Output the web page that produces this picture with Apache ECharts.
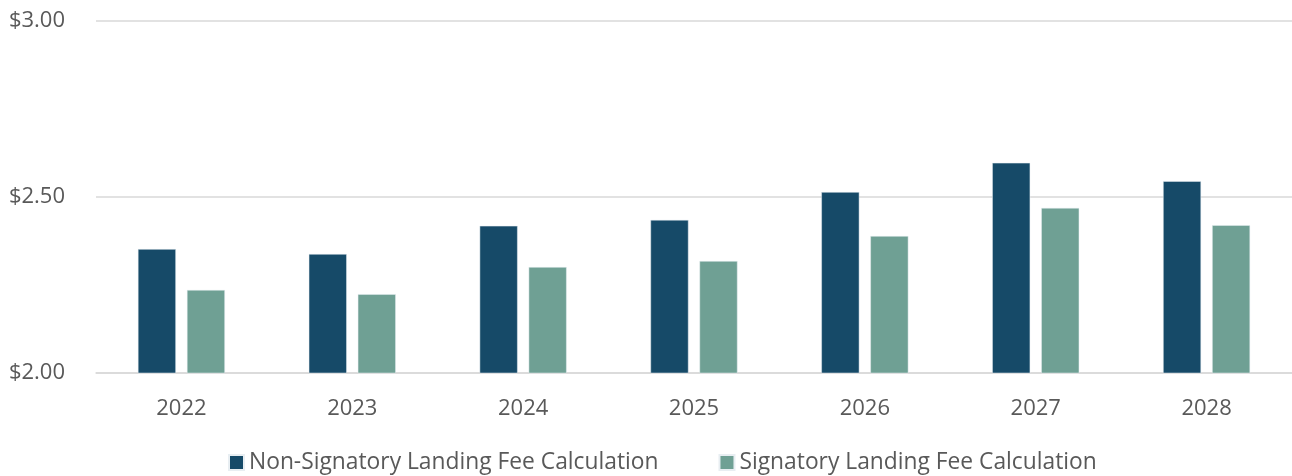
<!DOCTYPE html>
<html><head><meta charset="utf-8">
<script src="https://cdn.jsdelivr.net/npm/echarts@6/dist/echarts.min.js"></script>
<style>html,body{margin:0;padding:0;background:#fff}#c{width:1292px;height:476px}</style>
</head><body><div id="c"></div>
<script>
const categories = ['2022','2023','2024','2025','2026','2027','2028'];
const nonSignatory = [2.352, 2.338, 2.418, 2.435, 2.514, 2.597, 2.545];
const signatory = [2.236, 2.224, 2.301, 2.318, 2.389, 2.469, 2.420];
const seriesNames = ['Non-Signatory Landing Fee Calculation', 'Signatory Landing Fee Calculation'];

const chart = echarts.init(document.getElementById('c'));
const font = '"Open Sans", "Noto Sans", sans-serif';
chart.setOption({
  animation: false,
  textStyle: { fontFamily: font },
  grid: { left: 96, right: 0, top: 21, bottom: 103 },
  legend: {
    top: 451, left: 228, itemWidth: 15, itemHeight: 15, itemGap: 60,
    padding: 0,
    icon: 'rect',
    textStyle: { fontFamily: font, fontSize: 22.8, color: '#595959' },
    data: seriesNames
  },
  xAxis: {
    type: 'category', data: categories,
    axisLine: { lineStyle: { color: '#d9d9d9', width: 1.5 } },
    axisTick: { show: false },
    axisLabel: { fontFamily: font, fontSize: 22, color: '#595959', margin: 25 }
  },
  yAxis: {
    type: 'value', min: 2, max: 3, interval: 0.5,
    axisLine: { show: false }, axisTick: { show: false },
    splitLine: { lineStyle: { color: '#d9d9d9', width: 1.5 } },
    axisLabel: { fontFamily: font, fontSize: 22, color: '#595959', margin: 31,
      formatter: v => '$' + v.toFixed(2) }
  },
  series: [
    { name: seriesNames[0], type: 'bar', data: nonSignatory, barWidth: 38, barGap: '29%',
      itemStyle: { color: '#164a68', borderColor: '#e8eef2', borderWidth: 0.5 } },
    { name: seriesNames[1], type: 'bar', data: signatory, barWidth: 38,
      itemStyle: { color: '#6fa094', borderColor: '#e8eef2', borderWidth: 0.5 } }
  ]
});
</script></body></html>
